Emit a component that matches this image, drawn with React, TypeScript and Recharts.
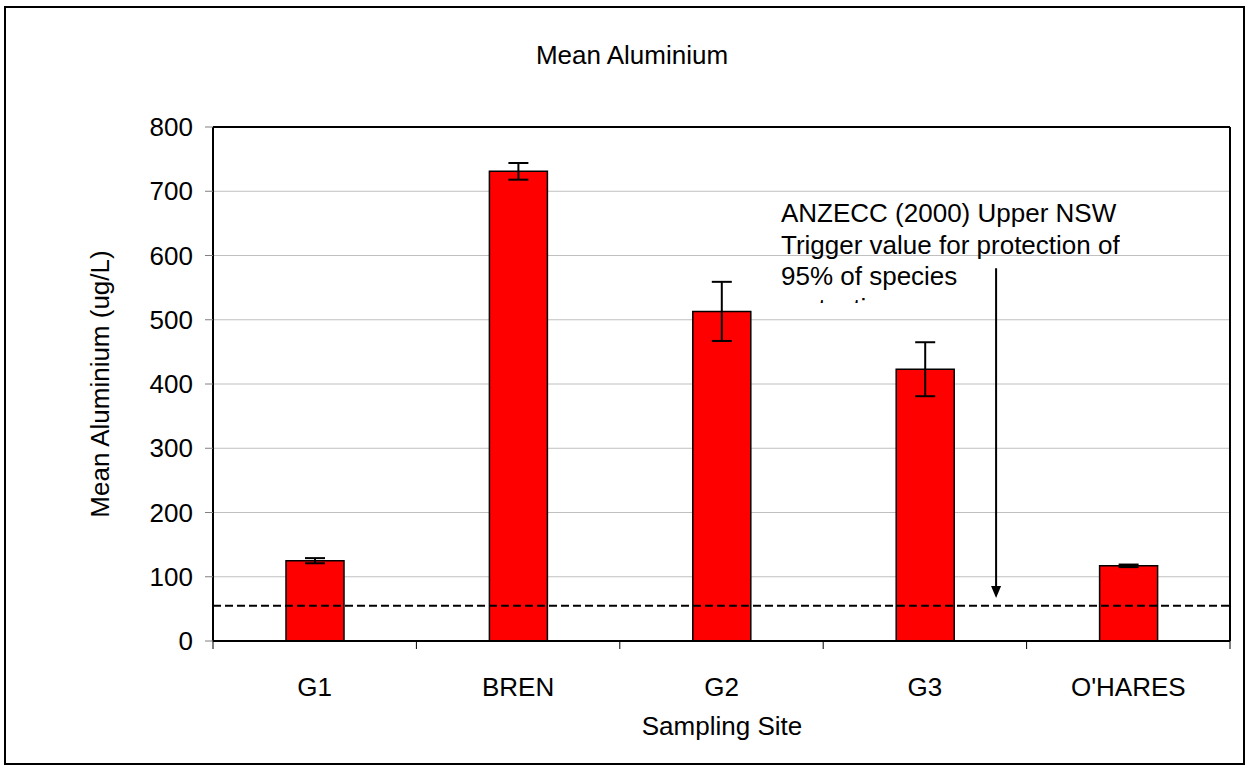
import React from 'react';
import { BarChart, Bar, XAxis, YAxis, CartesianGrid, ReferenceLine, ErrorBar } from 'recharts';

const sites = ['G1', 'BREN', 'G2', 'G3', "O'HARES"];
const meanAl = [125, 731, 513, 423, 117];
const errAl = [4, 13, 46, 42, 2];
const yTicks = [0, 100, 200, 300, 400, 500, 600, 700, 800];
const triggerValue = 55;
const noteLines = ['ANZECC (2000) Upper NSW', 'Trigger value for protection of', '95% of species', 'protection'];

const data = sites.map((site, i) => ({ site, mean: meanAl[i], err: errAl[i] }));

const W = 1248;
const H = 767;
const margin = { top: 127, right: 17, bottom: 66, left: 113 };
const font = '"Liberation Sans", Arial, sans-serif';
const band = (W - margin.left - 100 - margin.right - 1) / sites.length;

const SiteTick = (props: any) => {
  const { x, y, payload, index } = props;
  const top = y - 37;
  return (
    <g>
      <line x1={x - band / 2} x2={x - band / 2} y1={top} y2={top + 8} stroke="#000" strokeWidth={1} />
      {index === sites.length - 1 && (
        <line x1={x + band / 2} x2={x + band / 2} y1={top} y2={top + 8} stroke="#000" strokeWidth={1} />
      )}
      <text x={x} y={y} dy="0.71em" textAnchor="middle" fontSize={26} fill="#000" fontFamily={font}>
        {payload.value}
      </text>
    </g>
  );
};

// arrow sits a bit right of the G3 band centre
const Arrow = (props: any) => {
  const { x1, y1, y2 } = props;
  const x = x1 + band * 0.35;
  const top = Math.min(y1, y2);
  const tip = Math.max(y1, y2);
  return (
    <g>
      <line x1={x} x2={x} y1={top} y2={tip - 10} stroke="#000" strokeWidth={2} />
      <polygon points={`${x - 5},${tip - 12} ${x + 5},${tip - 12} ${x},${tip}`} fill="#000" />
    </g>
  );
};

export default function App() {
  return (
    <div style={{ position: 'absolute', left: 0, top: 0, width: W, height: H, background: '#fff', fontFamily: font }}>
      <div style={{ position: 'absolute', left: 4, top: 6, width: 1241, height: 759, border: '2px solid #000', boxSizing: 'border-box' }} />
      <BarChart width={W} height={H} data={data} margin={margin} barSize={58}>
        <CartesianGrid vertical={false} stroke="#c0c0c0" />
        <XAxis
          dataKey="site"
          height={60}
          tickSize={8}
          tickMargin={29}
          tickLine={false}
          axisLine={{ stroke: '#000', strokeWidth: 2 }}
          tick={<SiteTick />}
          interval={0}
        />
        <YAxis
          width={100}
          domain={[0, 800]}
          ticks={yTicks}
          interval={0}
          tickSize={8}
          tickMargin={12}
          tickLine={{ stroke: '#808080' }}
          axisLine={{ stroke: '#000', strokeWidth: 2 }}
          tick={{ fontSize: 26, fill: '#000', fontFamily: font }}
        />
        <YAxis yAxisId="r" orientation="right" width={1} domain={[0, 800]} tick={false} tickLine={false} axisLine={{ stroke: '#000', strokeWidth: 2 }} />
        <Bar dataKey="mean" fill="#ff0000" stroke="#000" strokeWidth={1.5} isAnimationActive={false}>
          <ErrorBar dataKey="err" width={10} stroke="#000" strokeWidth={2} />
        </Bar>
        <ReferenceLine y={triggerValue} stroke="#000" strokeWidth={2} strokeDasharray="8 4" />
        <ReferenceLine y={800} stroke="#000" strokeWidth={2} />
        <ReferenceLine
          segment={[{ x: 'G3', y: 580 }, { x: 'G3', y: 67 }]}
          shape={<Arrow />}
        />
      </BarChart>
      <div style={{ position: 'absolute', left: 0, width: W, top: 40, textAlign: 'center', fontSize: 26, lineHeight: '30px', paddingLeft: 16, boxSizing: 'border-box' }}>
        Mean Aluminium
      </div>
      <div style={{ position: 'absolute', left: 0, width: W, top: 711, textAlign: 'center', fontSize: 26, lineHeight: '30px', paddingLeft: 196, boxSizing: 'border-box' }}>
        Sampling Site
      </div>
      <div style={{ position: 'absolute', left: 100, top: 384, transform: 'translate(-50%, -50%) rotate(-90deg)', fontSize: 26, lineHeight: '30px', whiteSpace: 'nowrap' }}>
        Mean Aluminium (ug/L)
      </div>
      <div style={{ position: 'absolute', left: 781, top: 198, height: 105, overflow: 'hidden', fontSize: 26, lineHeight: '31.5px', whiteSpace: 'nowrap' }}>
        {noteLines.map((l) => (
          <div key={l}>{l}</div>
        ))}
      </div>
    </div>
  );
}
